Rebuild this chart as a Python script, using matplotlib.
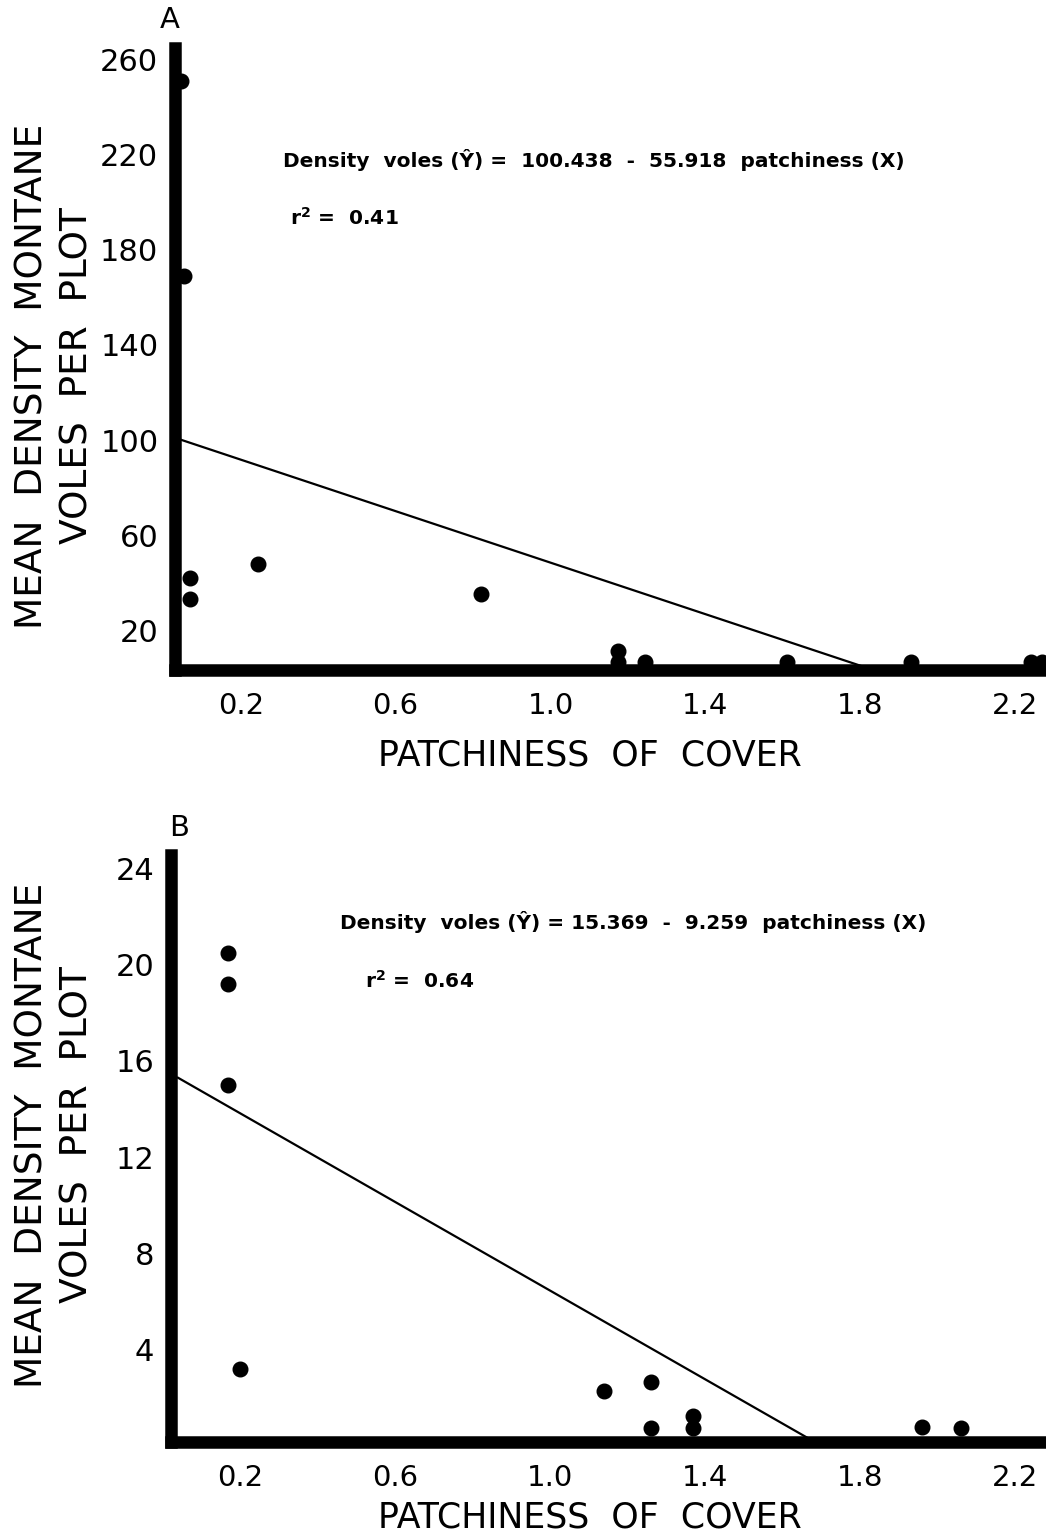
import matplotlib
matplotlib.use("Agg")
import matplotlib.pyplot as plt

# Panel A data (patchiness of cover vs mean density of montane voles)
a_x = [0.045, 0.053, 0.068, 0.068, 0.244, 0.82, 1.175, 1.175, 1.245, 1.61, 1.93, 2.24, 2.27]
a_y = [251, 169, 42, 33, 48, 35, 11, 6.5, 6.5, 6.5, 6.5, 6.5, 6.5]
# fitted line as drawn in the figure (end points)
a_line_x = [0.04, 1.81]
a_line_y = [100.4, 4.5]
a_yticks = [20, 60, 100, 140, 180, 220, 260]

# Panel B data
b_x = [0.17, 0.17, 0.17, 0.20, 1.14, 1.26, 1.26, 1.37, 1.37, 1.96, 2.06]
b_y = [20.5, 19.2, 15.0, 3.2, 2.3, 2.65, 0.75, 1.25, 0.75, 0.8, 0.75]
b_line_x = [0.04, 1.68]
b_line_y = [15.3, 0.2]
b_yticks = [4, 8, 12, 16, 20, 24]

xticks = [0.2, 0.6, 1.0, 1.4, 1.8, 2.2]
xticklabels = ["0.2", "0.6", "1.0", "1.4", "1.8", "2.2"]

W, H = 1046, 1535
fig = plt.figure(figsize=(W / 100, H / 100), dpi=100)


def px(x, y):
    """pixel (from top-left) -> figure fraction"""
    return x / W, 1 - y / H


def make_panel(rect, xs, ys, line_x, line_y, yticks, xlim, ylim):
    ax = fig.add_axes(rect)
    ax.plot(xs, ys, "o", color="black", markersize=10.5, clip_on=False, zorder=3)
    # regression line runs down into the (thick) x axis
    ax.plot(line_x, line_y, color="black", linewidth=1.6, clip_on=False, zorder=1)
    ax.set_xlim(*xlim)
    ax.set_ylim(*ylim)
    for s in ["top", "right"]:
        ax.spines[s].set_visible(False)
    for s in ["left", "bottom"]:
        ax.spines[s].set_linewidth(9)
        ax.spines[s].set_capstyle("projecting")
    ax.set_xticks(xticks)
    ax.set_xticklabels(xticklabels)
    ax.set_yticks(yticks)
    ax.set_yticklabels([str(t) for t in yticks])
    ax.tick_params(axis="both", length=0)
    ax.tick_params(axis="x", pad=16, labelsize=21)
    ax.tick_params(axis="y", pad=12, labelsize=22)
    ax.set_facecolor("none")
    return ax


# Panel A
x0, y0 = px(175, 670)
x1, y1 = px(1046, 48)
axA = make_panel([x0, y0, x1 - x0, y1 - y0], a_x, a_y, a_line_x, a_line_y,
                 a_yticks, (0.03, 2.28), (3.2, 265))

# Panel B
x0, y0 = px(171, 1442)
x1, y1 = px(1046, 855)
axB = make_panel([x0, y0, x1 - x0, y1 - y0], b_x, b_y, b_line_x, b_line_y,
                 b_yticks, (0.022, 2.28), (0.17, 24.55))

# axis titles
for yc, xl_y, tag, tag_pos in [(376, 755, "A", (170, 20)), (1135, 1518, "B", (179, 828))]:
    fig.text(*px(33, yc), "MEAN  DENSITY  MONTANE", rotation=90, ha="center",
             va="center", fontsize=27)
    fig.text(*px(78, yc), "VOLES  PER  PLOT", rotation=90, ha="center",
             va="center", fontsize=27)
    fig.text(*px(590, xl_y), "PATCHINESS  OF  COVER", ha="center", va="center",
             fontsize=25)
    fig.text(*px(*tag_pos), tag, ha="center", va="center", fontsize=21)

# regression equations
eq_kw = dict(ha="left", va="center", fontsize=14.5, fontweight="bold")
fig.text(*px(283, 160), "Density  voles (Ŷ) =  100.438  -  55.918  patchiness (X)", **eq_kw)
fig.text(*px(290, 218), r"r$^{\mathbf{2}}$ =  0.41", **eq_kw)
fig.text(*px(340, 922), "Density  voles (Ŷ) = 15.369  -  9.259  patchiness (X)", **eq_kw)
fig.text(*px(365, 981), r"r$^{\mathbf{2}}$ =  0.64", **eq_kw)

fig.savefig("out.png", dpi=100)
